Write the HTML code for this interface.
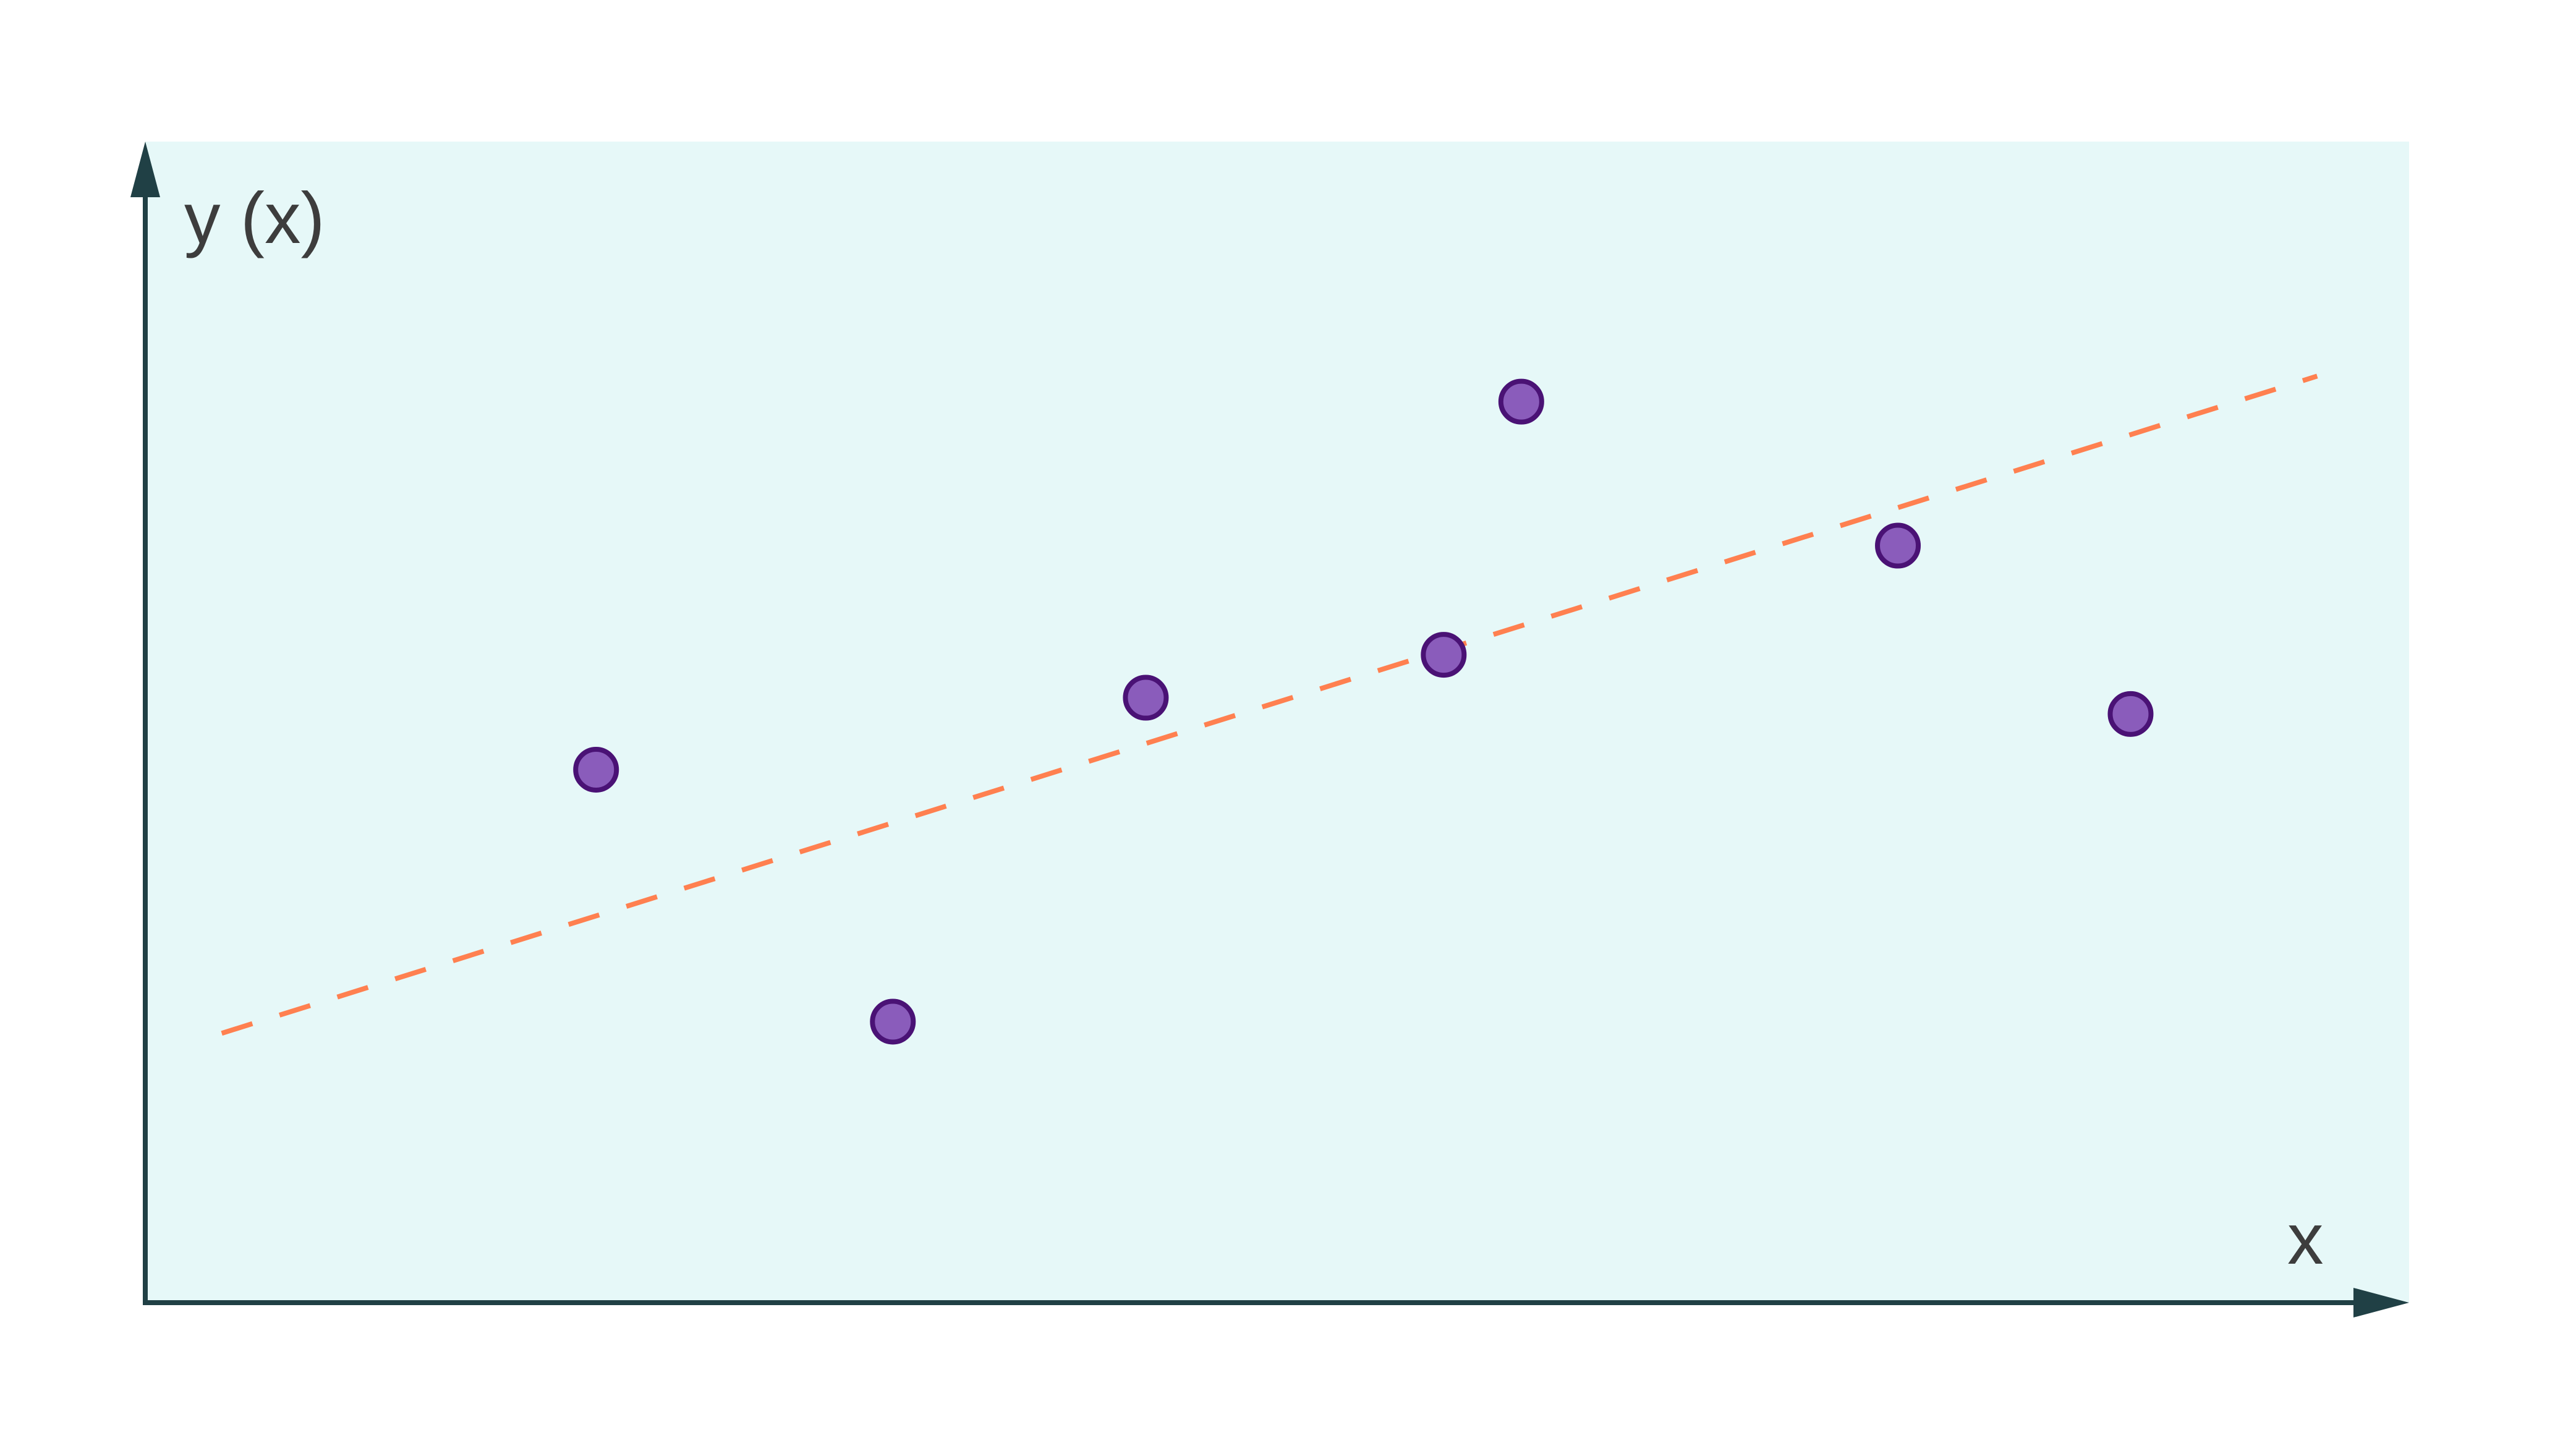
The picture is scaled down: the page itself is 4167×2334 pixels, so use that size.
<!DOCTYPE html>
<html><head><meta charset="utf-8"><style>
html,body{margin:0;padding:0;background:#fff;}
svg{display:block;}
text{font-family:"Liberation Sans","DejaVu Sans",sans-serif;fill:#3d3d3d;}
</style></head><body>
<svg id="chart" width="4167" height="2334" viewBox="0 0 4167 2334" xmlns="http://www.w3.org/2000/svg">
<rect x="235" y="229" width="3662" height="1878" fill="#e6f8f8"/>
<g id="trend"></g>
<g id="points"></g>
<line x1="235" y1="2111" x2="235" y2="300" stroke="#204045" stroke-width="8"/>
<polygon points="235,229 211,319 259,319" fill="#204045"/>
<line x1="231" y1="2107" x2="3820" y2="2107" stroke="#204045" stroke-width="8"/>
<polygon points="3897,2107 3807,2083 3807,2131" fill="#204045"/>
<text x="298" y="393" font-size="117">y (x)</text>
<text x="3700" y="2044" font-size="117">x</text>
</svg>
<script>
const xs = [20.05, 33.25, 44.5, 57.75, 61.2, 77.95, 88.3];
const ys = [45.9, 24.2, 52.1, 55.8, 77.6, 65.2, 50.7];
const trendX = [3.4, 96.6];
const trendY = [23.2, 79.8];
function sx(v){return 235 + v*(3872-235)/100;}
function sy(v){return 2107 - v*(2107-229)/100;}
const NS="http://www.w3.org/2000/svg";
const tg=document.getElementById('trend');
const ln=document.createElementNS(NS,'line');


ln.setAttribute('x1',sx(trendX[0]));ln.setAttribute('y1',sy(trendY[0]));
ln.setAttribute('x2',sx(trendX[1]));ln.setAttribute('y2',sy(trendY[1]));
ln.setAttribute('stroke','#ff8050');ln.setAttribute('stroke-width','8');
ln.setAttribute('stroke-dasharray','52 46');
tg.appendChild(ln);
const pg=document.getElementById('points');
for(let i=0;i<xs.length;i++){
  const c=document.createElementNS(NS,'circle');
  
  
  c.setAttribute('cx',sx(xs[i]));c.setAttribute('cy',sy(ys[i]));
  c.setAttribute('r','33');c.setAttribute('fill','#8a5cbb');
  c.setAttribute('stroke','#4a1275');c.setAttribute('stroke-width','8');
  pg.appendChild(c);
}
</script>
</body></html>
